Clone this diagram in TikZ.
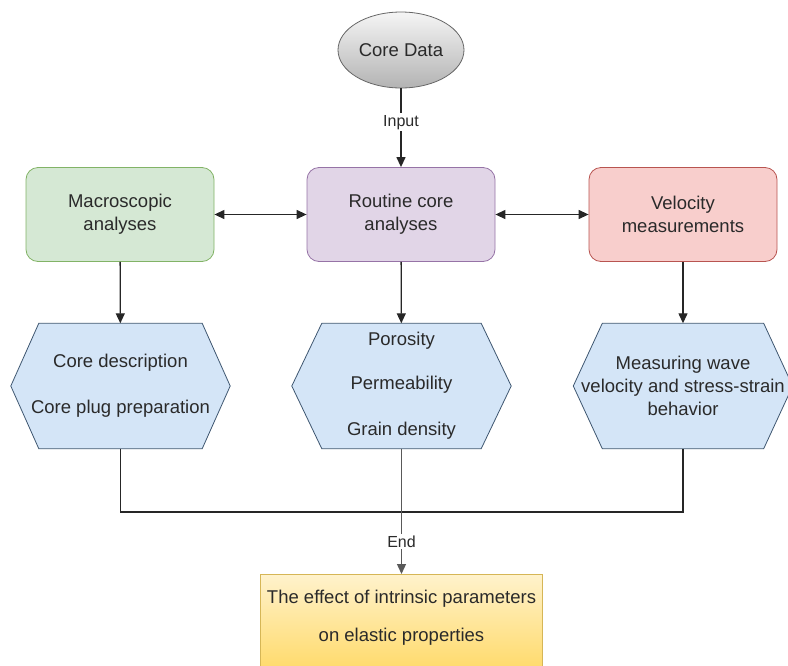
\documentclass[tikz,border=0pt]{standalone}
\usepackage{fontspec}
\setmainfont{Liberation Sans}
\usetikzlibrary{arrows.meta,calc,backgrounds,shapes.geometric}
\definecolor{txt}{HTML}{2A2A2A}
\definecolor{greenF}{HTML}{D5E8D4}\definecolor{greenD}{HTML}{82B366}
\definecolor{purpF}{HTML}{E1D5E7}\definecolor{purpD}{HTML}{9673A6}
\definecolor{redF}{HTML}{F8CECC}\definecolor{redD}{HTML}{B85450}
\definecolor{hexF}{HTML}{D4E5F7}\definecolor{hexD}{HTML}{3E5670}
\definecolor{yelT}{HTML}{FFF2CC}\definecolor{yelB}{HTML}{FFD966}\definecolor{yelD}{HTML}{D6B656}
\definecolor{grayT}{HTML}{F5F5F5}\definecolor{grayB}{HTML}{B3B3B3}\definecolor{grayD}{HTML}{666666}
\newcommand\hexshape[2]{%
  \begin{scope}[on background layer]
  \draw[hexdraw] (#1.west) -- ($(#1.north west)+(#2,0)$) -- ($(#1.north east)+(-#2,0)$) -- (#1.east)
    -- ($(#1.south east)+(-#2,0)$) -- ($(#1.south west)+(#2,0)$) -- cycle;
  \end{scope}}
\begin{document}
\begin{tikzpicture}[x=1pt,y=-1pt,
  font=\fontsize{18.5}{23}\selectfont, text=txt,
  box/.style={draw, rounded corners=12pt, minimum width=188pt, minimum height=94pt,
    inner sep=0pt, align=center, line width=0.8pt},
  hexnode/.style={minimum width=219pt, minimum height=125pt, inner sep=0pt, align=center},
  hexdraw/.style={draw=hexD, fill=hexF, line width=0.8pt},
  conn/.style={line width=1.3pt, draw=black!85},
  arr/.style={conn, -{Triangle[length=10pt,width=9pt]}},
  arr2/.style={conn, {Triangle[length=10pt,width=9pt]}-{Triangle[length=10pt,width=9pt]}},
  lbl/.style={fill=white, inner sep=2pt, font=\fontsize{16}{19}\selectfont}]
\useasboundingbox (0,0) rectangle (788,665);
\clip (0,0) rectangle (788,665);

\node[ellipse, draw=grayD, line width=0.8pt, top color=grayT, bottom color=grayB,
  minimum width=126pt, minimum height=76pt, inner sep=0pt] (core) at (401,50) {Core Data};

\node[box, fill=greenF, draw=greenD] (macro) at (120,214.5) {Macroscopic\\analyses};
\node[box, fill=purpF, draw=purpD] (routine) at (401,214.5) {Routine core\\analyses};
\node[box, fill=redF, draw=redD] (velo) at (683,214.5) {Velocity\\measurements};

\node[hexnode] (hexL) at (120.5,386) {Core description\\[23pt]Core plug preparation};
\hexshape{hexL}{28}
\node[hexnode] (hexM) at (401.5,386) {Porosity\\[21pt]Permeability\\[23pt]Grain density};
\hexshape{hexM}{30}
\node[hexnode] (hexR) at (683,386) {Measuring wave\\velocity and stress-strain\\behavior};
\hexshape{hexR}{29}

\node[minimum width=282pt, minimum height=88pt, inner sep=0pt, align=center, anchor=north,
  font=\fontsize{18.5}{38}\selectfont] (effect) at (401.5,574)
  {The effect of intrinsic parameters\\on elastic properties};
\begin{scope}[on background layer]
\draw[draw=yelD, line width=0.8pt, top color=yelT, bottom color=yelB]
  (effect.north west) rectangle ($(effect.south east)+(0,12)$);
\end{scope}

\draw[arr] (core) -- node[lbl, pos=0.43] {Input} (routine);
\draw[arr2] (macro) -- (routine);
\draw[arr2] (routine) -- (velo);
\draw[arr] (macro) -- (hexL);
\draw[arr] (routine) -- (hexM);
\draw[arr] (velo) -- (hexR);

\coordinate (join) at (401.5,512);
\draw[conn] (hexL.south) |- (join) -| (hexR.south);
\draw[arr, draw=black!65] (hexM) -- node[lbl, pos=0.74] {End} (effect);
\end{tikzpicture}
\end{document}
